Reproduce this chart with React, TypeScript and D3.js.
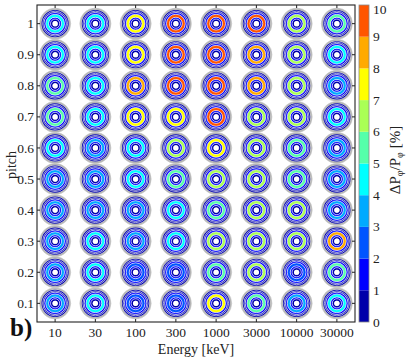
import React from 'react';
import * as d3 from 'd3';

const energies = ['10', '30', '100', '300', '1000', '3000', '10000', '30000'];
const pitches = [1, 0.9, 0.8, 0.7, 0.6, 0.5, 0.4, 0.3, 0.2, 0.1];
const pitchLabels = ['1', '0.9', '0.8', '0.7', '0.6', '0.5', '0.4', '0.3', '0.2', '0.1'];

// peak ring value (ΔP/P %) per cell, rows = pitch 1 .. 0.1, cols = energies
const peak_p10 = [4.5, 4.5, 7.5, 9.5, 9.5, 9.5, 6.5, 5.5];
const peak_p09 = [4.5, 4.5, 7.5, 9.5, 9.5, 8.5, 6.5, 4.5];
const peak_p08 = [5.5, 4.2, 8.5, 9.5, 9.5, 8.5, 6.5, 3.5];
const peak_p07 = [5.5, 4.5, 7.5, 7.5, 9.5, 6.5, 6.5, 4.5];
const peak_p06 = [4.5, 3.5, 4.5, 6.5, 7.5, 6.5, 5.5, 3.5];
const peak_p05 = [3.5, 3.5, 4.5, 5.5, 6.5, 6.5, 5.5, 3.5];
const peak_p04 = [3.5, 3.5, 3.5, 4.5, 5.5, 6.5, 6.5, 3.5];
const peak_p03 = [3.5, 4.5, 3.5, 4.5, 6.5, 6.5, 6.5, 8.5];
const peak_p02 = [3.5, 4.5, 2.5, 2.5, 5.5, 6.5, 2.5, 5.5];
const peak_p01 = [3.5, 4.5, 2.5, 2.5, 7.5, 5.5, 3.5, 4.5];
const peaks = [peak_p10, peak_p09, peak_p08, peak_p07, peak_p06, peak_p05, peak_p04, peak_p03, peak_p02, peak_p01];

// ring values from inner to outer; null = the cell's peak value
const ringBase: (number | null)[] = [0.5, 1.5, null, 1.5, 0.5];

const colorTicks = [0, 1, 2, 3, 4, 5, 6, 7, 8, 9, 10];
const jet10 = [
  '#0000aa', '#0000ff', '#0055ff', '#00aaff', '#00ffff',
  '#55ffaa', '#aaff55', '#ffff00', '#ffaa00', '#ff5500',
];

const W = 407, H = 360;
const left = 37, right = 355, top = 5, bottom = 322;
const cbX0 = 359, cbX1 = 369;
const font = '"Liberation Serif", "DejaVu Serif", serif';

export default function App() {
  const x = d3.scaleLinear().domain([-0.45, energies.length - 1 + 0.45]).range([left, right]);
  const y = d3.scaleLinear().domain([0.04, 1.06]).range([bottom, top]);
  const color = d3.scaleQuantize<string>().domain([0, 10]).range(jet10);
  const cy = d3.scaleLinear().domain([0, 10]).range([bottom, top]);
  const radii = [2.6, 4.6, 6.4, 9.4, 11.2, 13.6];
  const arc = d3.arc();

  const cells: React.ReactNode[] = [];
  pitches.forEach((p, ri) => {
    energies.forEach((e, ci) => {
      const cx = x(ci), cyy = y(p);
      const vals = ringBase.map(v => (v === null ? peaks[ri][ci] : v));
      cells.push(
        <g key={`${ri}-${ci}`} transform={`translate(${cx},${cyy})`}>
          <circle r={15.6} fill="#d6d6d6" stroke="#c4c4c4" strokeWidth={0.6} />
          <circle r={14.6} fill="none" stroke="#b4b4b4" strokeWidth={1.2} />
          {vals.map((v, k) => (
            <path key={k}
              d={arc({ innerRadius: radii[k], outerRadius: radii[k + 1], startAngle: 0, endAngle: 2 * Math.PI }) || ''}
              fill={color(v)} />
          ))}
          <circle r={radii[0]} fill="#ffffff" />
          {[4.6, 6.4, 9.4, 11.2, 12.5].map((r, k) => (
            <circle key={k} r={r} fill="none" stroke="#ffffff" strokeWidth={0.65} />
          ))}
        </g>
      );
    });
  });

  return (
    <svg width={W} height={H} style={{ position: 'absolute', left: 0, top: 0, background: '#fff' }}
      fontFamily={font}>
      {cells}
      {/* frame */}
      <rect x={left} y={top} width={right - left} height={bottom - top} fill="none" stroke="#222" strokeWidth={1.1} />
      {energies.map((e, i) => (
        <g key={e}>
          <line x1={x(i)} x2={x(i)} y1={bottom} y2={bottom - 3} stroke="#222" />
          <line x1={x(i)} x2={x(i)} y1={top} y2={top + 3} stroke="#222" />
          <text x={x(i)} y={337} textAnchor="middle" fontSize={13.5} fill="#222">{e}</text>
        </g>
      ))}
      {pitches.map((p, i) => (
        <g key={p}>
          <line x1={left} x2={left + 3} y1={y(p)} y2={y(p)} stroke="#222" />
          <line x1={right} x2={right - 3} y1={y(p)} y2={y(p)} stroke="#222" />
          <text x={34} y={y(p)} dy="0.34em" textAnchor="end" fontSize={13.5} fill="#222">{pitchLabels[i]}</text>
        </g>
      ))}
      <text x={196} y={354} textAnchor="middle" fontSize={14} fill="#222">Energy [keV]</text>
      <text transform={`translate(16,165) rotate(-90)`} textAnchor="middle" fontSize={14} fill="#222">pitch</text>
      <text x={10} y={336} fontSize={25} fontWeight="bold" fill="#111">b)</text>

      {/* colorbar */}
      {jet10.map((c, i) => (
        <rect key={c} x={cbX0} y={cy(i + 1)} width={cbX1 - cbX0} height={cy(i) - cy(i + 1)} fill={c} />
      ))}
      <rect x={cbX0} y={top} width={cbX1 - cbX0} height={bottom - top} fill="none" stroke="#888" strokeWidth={0.8} />
      {colorTicks.map(t => (
        <text key={t} x={373} y={Math.max(cy(t), 9)} dy="0.34em" fontSize={13.5} fill="#222">{t}</text>
      ))}
      <text transform={`translate(400,160) rotate(-90)`} textAnchor="middle" fontSize={15} fill="#222">
        ΔP<tspan fontSize={10} dy={3}>φ</tspan><tspan dy={-3}>/P</tspan><tspan fontSize={10} dy={3}>φ</tspan><tspan dy={-3}> [%]</tspan>
      </text>
    </svg>
  );
}
